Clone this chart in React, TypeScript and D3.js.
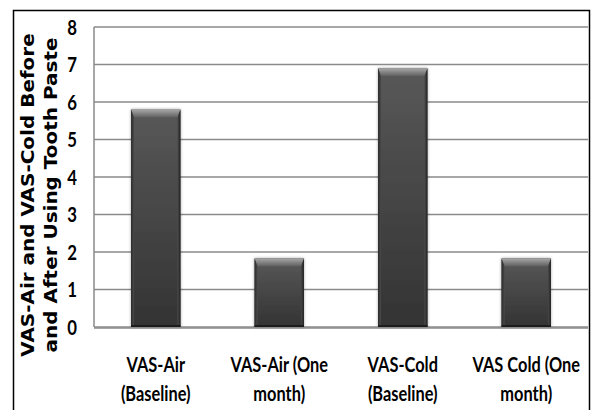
import React from "react";
import * as d3 from "d3";

const categories = ["VAS-Air (Baseline)", "VAS-Air (One month)", "VAS-Cold (Baseline)", "VAS Cold (One month)"];
const labelLine1 = ["VAS-Air", "VAS-Air (One", "VAS-Cold", "VAS Cold (One"];
const labelLine2 = ["(Baseline)", "month)", "(Baseline)", "month)"];
const values = [5.8, 1.83, 6.9, 1.83];
const yTicks = [0, 1, 2, 3, 4, 5, 6, 7, 8];
const titleLines = ["VAS-Air and VAS-Cold Before", "and After Using Tooth Paste"];

const W = 591;
const H = 410;
const plot = { left: 94, right: 588, top: 27, bottom: 327 };

export default function App() {
  const x = d3
    .scaleBand<string>()
    .domain(categories)
    .range([plot.left, plot.right])
    .paddingInner(0.6)
    .paddingOuter(0.3);
  const y = d3.scaleLinear().domain([0, 8]).range([plot.bottom, plot.top]);
  const bw = x.bandwidth();
  const bevelTop = 8;
  const bevelSide = 3;
  const labelFont = "Lato, 'Open Sans', sans-serif";

  return (
    <svg
      width={W}
      height={H}
      style={{ position: "absolute", left: 0, top: 0, background: "#fff" }}
    >
      <defs>
        <linearGradient id="body" x1="0" y1="0" x2="0" y2="1">
          <stop offset="0" stopColor="#585858" />
          <stop offset="1" stopColor="#333333" />
        </linearGradient>
        <linearGradient id="topBevel" x1="0" y1="0" x2="0" y2="1">
          <stop offset="0" stopColor="#a8a8a8" />
          <stop offset="1" stopColor="#5e5e5e" />
        </linearGradient>
        <linearGradient id="leftBevel" x1="0" y1="0" x2="1" y2="0">
          <stop offset="0" stopColor="#2a2a2a" />
          <stop offset="1" stopColor="#4a4a4a" />
        </linearGradient>
        <linearGradient id="rightBevel" x1="0" y1="0" x2="1" y2="0">
          <stop offset="0" stopColor="#4a4a4a" />
          <stop offset="1" stopColor="#222222" />
        </linearGradient>
        <filter id="shadow" x="-20%" y="-10%" width="140%" height="120%">
          <feGaussianBlur in="SourceAlpha" stdDeviation="1.5" />
          <feComponentTransfer>
            <feFuncA type="linear" slope="0.35" />
          </feComponentTransfer>
          <feMerge>
            <feMergeNode />
            <feMergeNode in="SourceGraphic" />
          </feMerge>
        </filter>
      </defs>

      <rect x={13.5} y={10.5} width={576} height={H} fill="none" stroke="#000" strokeWidth={1.5} />

      {/* gridlines */}
      {yTicks.map((t) => (
        <line
          key={"g" + t}
          x1={plot.left}
          x2={plot.right}
          y1={y(t)}
          y2={y(t)}
          stroke="#8a8a8a"
          strokeWidth={1.5}
        />
      ))}
      <line x1={plot.left} x2={plot.left} y1={plot.top} y2={plot.bottom} stroke="#8a8a8a" strokeWidth={1.5} />

      {/* tick labels */}
      {yTicks.map((t) => (
        <text
          key={"t" + t}
          transform={`translate(${77},${y(t) + 7.5}) scale(0.8,1)`}
          textAnchor="end"
          fontFamily={labelFont}
          fontSize={21}
          fontWeight="bold"
          fill="#000"
        >
          {t}
        </text>
      ))}

      {/* bars */}
      {categories.map((c, i) => {
        const x0 = x(c)!;
        const y0 = y(values[i]);
        const y1 = y(0);
        return (
          <g key={c} filter="url(#shadow)">
            <rect x={x0} y={y0} width={bw} height={y1 - y0} fill="url(#body)" />
            <polygon
              points={`${x0},${y0} ${x0 + bw},${y0} ${x0 + bw - bevelSide},${y0 + bevelTop} ${x0 + bevelSide},${y0 + bevelTop}`}
              fill="url(#topBevel)"
            />
            <polygon
              points={`${x0},${y0} ${x0 + bevelSide},${y0 + bevelTop} ${x0 + bevelSide},${y1 - 2} ${x0},${y1}`}
              fill="url(#leftBevel)"
            />
            <polygon
              points={`${x0 + bw},${y0} ${x0 + bw - bevelSide},${y0 + bevelTop} ${x0 + bw - bevelSide},${y1 - 2} ${x0 + bw},${y1}`}
              fill="url(#rightBevel)"
            />
            <rect x={x0} y={y1 - 2} width={bw} height={2} fill="#1e1e1e" />
          </g>
        );
      })}
      <line x1={plot.left} x2={plot.right} y1={y(0) + 1} y2={y(0) + 1} stroke="#8a8a8a" strokeWidth={1.5} />

      {/* category labels */}
      {categories.map((c, i) => {
        const cx = x(c)! + bw / 2;
        return (
          <g key={"l" + c} fontFamily={labelFont} fontSize={21} fontWeight="bold" fill="#000" textAnchor="middle">
            <text transform={`translate(${cx},${372}) scale(0.78,1)`}>{labelLine1[i]}</text>
            <text transform={`translate(${cx},${401}) scale(0.78,1)`}>{labelLine2[i]}</text>
          </g>
        );
      })}

      {/* y title */}
      <g fontFamily="'DejaVu Sans', Verdana, sans-serif" fontWeight="bold" fontSize={18} fill="#000" textAnchor="middle">
        <text transform={`translate(${34},${195}) rotate(-90) scale(1.11,1)`}>{titleLines[0]}</text>
        <text transform={`translate(${57},${195}) rotate(-90) scale(1.11,1)`}>{titleLines[1]}</text>
      </g>
    </svg>
  );
}
